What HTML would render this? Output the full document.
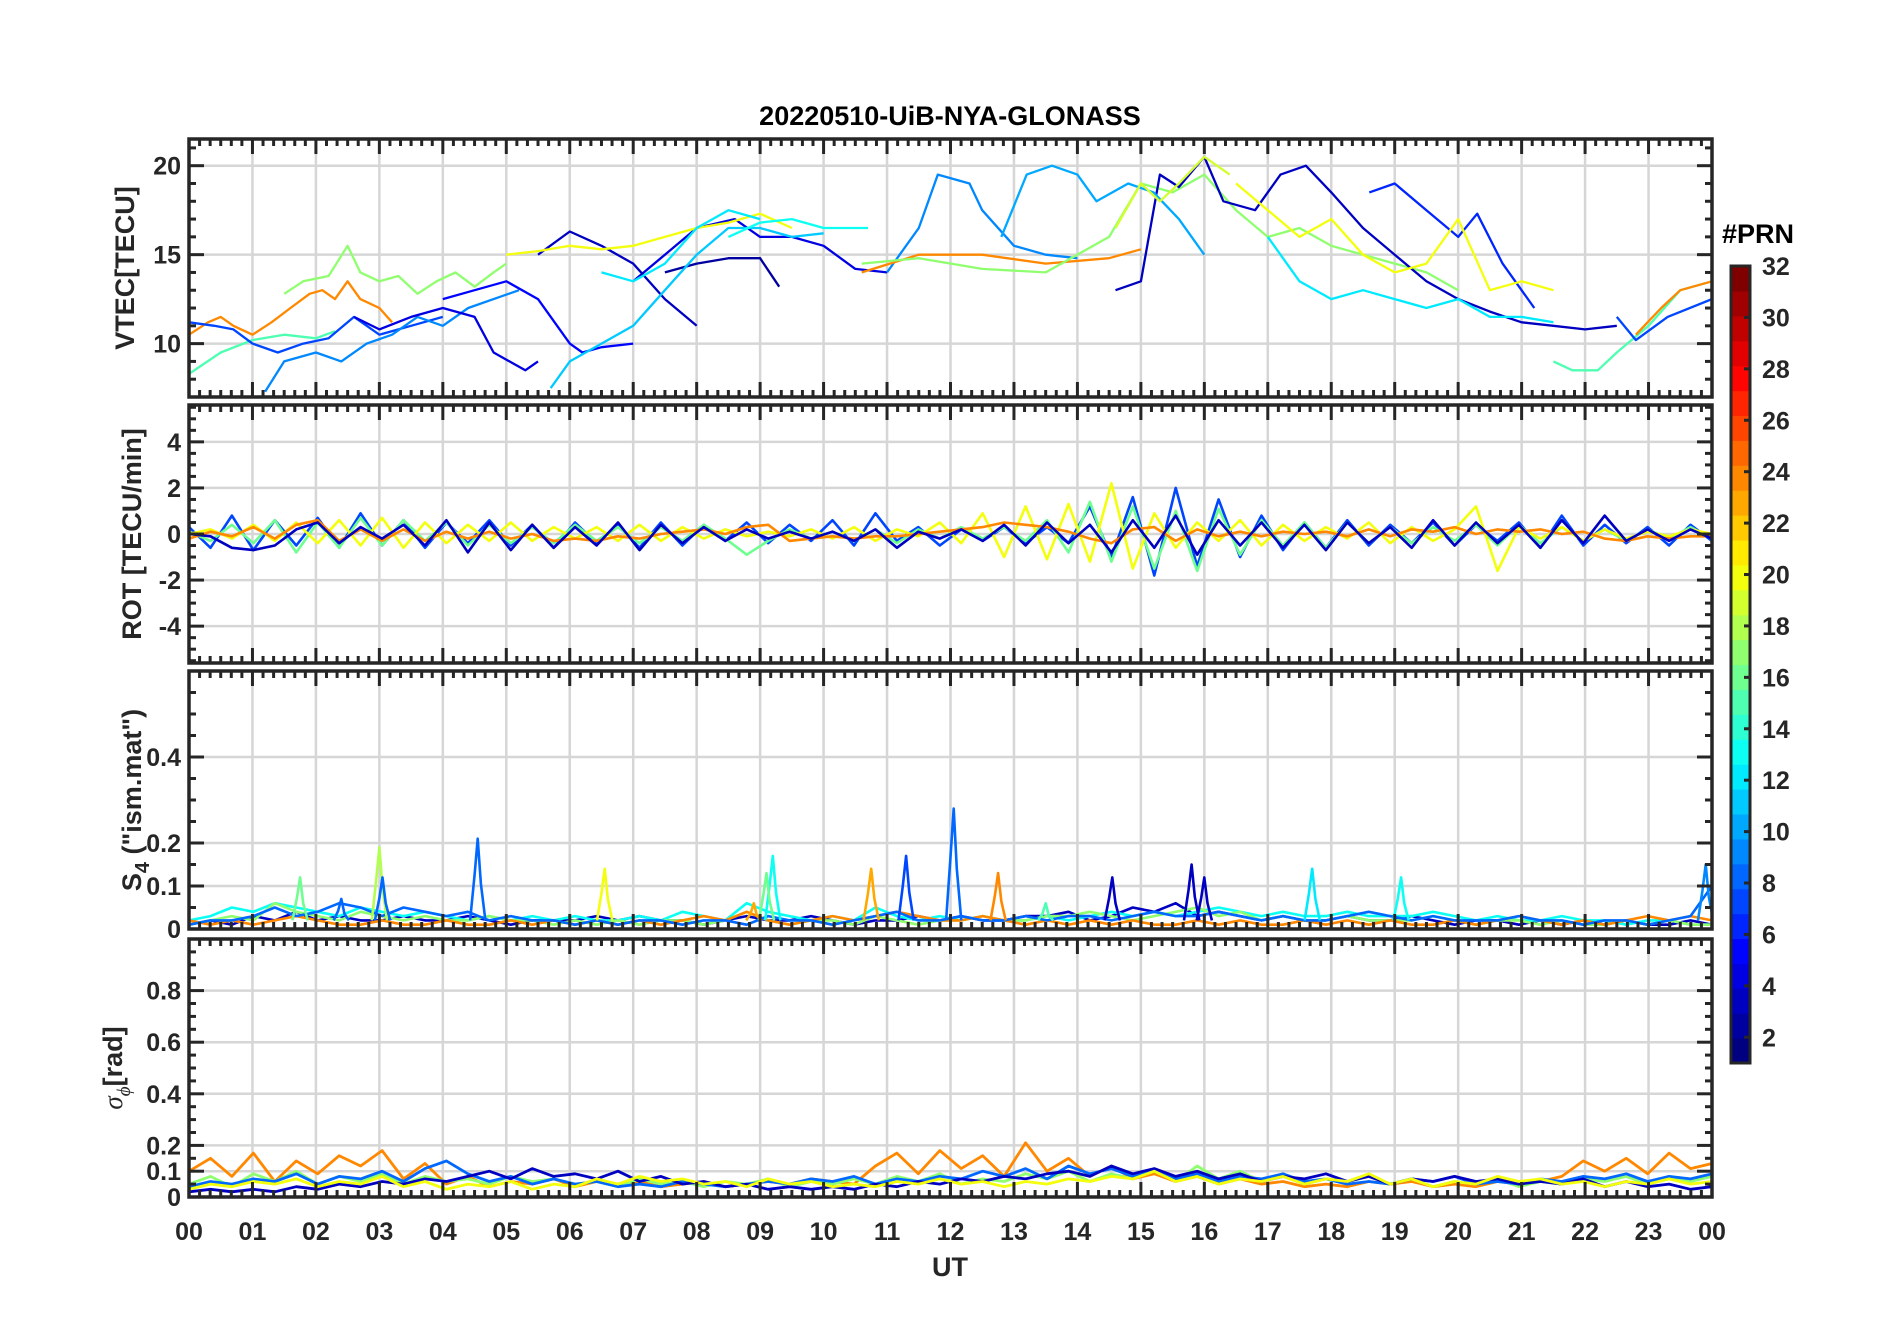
<!DOCTYPE html>
<html><head><meta charset="utf-8">
<style>
html,body{margin:0;padding:0;background:#fff;}
svg{display:block;font-family:"Liberation Sans",Arial,sans-serif;}
</style></head>
<body>
<svg id="chart" width="1902" height="1330" viewBox="0 0 1902 1330" xmlns="http://www.w3.org/2000/svg">
<text x="950" y="125" text-anchor="middle" font-size="27" font-weight="bold" fill="#000">20220510-UiB-NYA-GLONASS</text>
<text x="950" y="1276" text-anchor="middle" font-size="27" font-weight="bold" fill="#262626">UT</text>
<text transform="translate(134,268) rotate(-90)" text-anchor="middle" font-size="27" font-weight="bold" fill="#262626">VTEC[TECU]</text>
<text transform="translate(141,534) rotate(-90)" text-anchor="middle" font-size="27" font-weight="bold" fill="#262626">ROT [TECU/min]</text>
<text transform="translate(141,800) rotate(-90)" text-anchor="middle" font-size="27" font-weight="bold" fill="#262626">S<tspan font-size="20" dy="8">4</tspan><tspan dy="-8"> ("ism.mat")</tspan></text>
<text transform="translate(122,1068) rotate(-90)" text-anchor="middle" font-size="27" font-weight="bold" fill="#262626"><tspan font-style="italic" font-weight="normal" font-family="Liberation Serif, serif">σ</tspan><tspan font-size="19" dy="8" font-style="italic" font-weight="normal" font-family="Liberation Serif, serif">ϕ</tspan><tspan dy="-8">[rad]</tspan></text>
<text x="1722" y="243" font-size="27" font-weight="bold" fill="#000">#PRN</text>
<g id="layer"></g>
</svg>
<script>
// ===== DATA =====
const hourLabels = ["00","01","02","03","04","05","06","07","08","09","10","11","12","13","14","15","16","17","18","19","20","21","22","23","00"];
const vtecTicks = [10,15,20];
const rotTicks = [-4,-2,0,2,4];
const s4Ticks = [0,0.1,0.2,0.4];
const sigTicks = [0,0.1,0.2,0.4,0.6,0.8];
const cbTicks = [2,4,6,8,10,12,14,16,18,20,22,24,26,28,30,32];

// VTEC series: PRN, times (h), values (TECU)
const vtecPrn = [24,17,15,7,9,4,4,5,3,2,20,11,13,12,9,24,17,3,6,20,12,15,24,7,10,19];
const vtecT = [
 [0,0.3,0.5,0.7,1.0,1.3,1.6,1.9,2.1,2.3,2.5,2.7,3.0,3.2],
 [1.5,1.8,2.2,2.5,2.7,3.0,3.3,3.6,3.9,4.2,4.5,4.8,5.0],
 [0,0.5,1.0,1.5,2.0,2.3],
 [0,0.4,0.7,1.0,1.4,1.8,2.2,2.6,3.0,3.5,4.0],
 [1.2,1.5,2.0,2.4,2.8,3.2,3.6,4.0,4.4,4.8,5.2],
 [2.6,3.0,3.5,4.0,4.5,4.8,5.3,5.5],
 [7.0,7.5,8.0,8.6,9.0,9.5,10.0,10.5,11.0],
 [4.0,4.5,5.0,5.5,6.0,6.2,6.5,7.0],
 [5.5,6.0,6.5,7.0,7.5,8.0],
 [7.5,8.0,8.5,9.0,9.3],
 [5.0,5.5,6.0,6.5,7.0,7.5,8.0,8.5,9.0,9.5],
 [5.7,6.0,6.5,7.0,7.5,8.0,8.5,9.0,9.5,10.0],
 [8.5,9.0,9.5,10.0,10.7],
 [6.5,7.0,7.5,8.0,8.5,9.0],
 [11.0,11.5,11.8,12.3,12.5,13.0,13.5,14.0],
 [10.6,11.5,12.5,13.5,14.5,15.0],
 [10.6,11.5,12.5,13.5,14.5,15.0,15.5,16.0,16.5,17.0,17.5,18.0,18.5,19.0,19.5,20.0],
 [14.6,15.0,15.3,15.6,16.0,16.3,16.8,17.2,17.6,18.0,18.5,19.0,19.5,20.0,20.5,21.0,21.5,22.0,22.5],
 [18.6,19.0,19.5,20.0,20.3,20.7,21.2],
 [16.5,17.0,17.5,18.0,18.5,19.0,19.5,20.0,20.5,21.0,21.5],
 [17.0,17.5,18.0,18.5,19.0,19.5,20.0,20.5,21.0,21.5],
 [21.5,21.8,22.2,22.5,23.0,23.5,24.0],
 [22.8,23.2,23.5,24.0],
 [22.5,22.8,23.3,24.0],
 [12.8,13.2,13.6,14.0,14.3,14.8,15.2,15.6,16.0],
 [14.6,15.0,15.3,15.6,16.0,16.4]
];
const vtecV = [
 [10.5,11.2,11.5,11.0,10.5,11.2,12.0,12.8,13.0,12.5,13.5,12.5,12.0,11.2],
 [12.8,13.5,13.8,15.5,14.0,13.5,13.8,12.8,13.5,14.0,13.2,14.0,14.5],
 [8.3,9.5,10.2,10.5,10.3,10.7],
 [11.2,11.0,10.8,10.0,9.5,10.0,10.3,11.5,10.5,11.0,11.5],
 [7.3,9.0,9.5,9.0,10.0,10.5,11.5,11.0,12.0,12.5,13.0],
 [11.5,10.8,11.5,12.0,11.5,9.5,8.5,9.0],
 [13.5,15.0,16.5,17.0,16.0,16.0,15.5,14.2,14.0],
 [12.5,13.0,13.5,12.5,10.0,9.5,9.8,10.0],
 [15.0,16.3,15.5,14.5,12.5,11.0],
 [14.0,14.5,14.8,14.8,13.2],
 [15.0,15.2,15.5,15.3,15.5,16.0,16.5,16.8,17.3,16.5],
 [7.5,9.0,10.0,11.0,13.0,15.0,16.5,16.5,16.0,16.2],
 [16.0,16.8,17.0,16.5,16.5],
 [14.0,13.5,14.5,16.5,17.5,17.0],
 [14.0,16.5,19.5,19.0,17.5,15.5,15.0,14.8],
 [14.0,15.0,15.0,14.5,14.8,15.3],
 [14.5,14.8,14.2,14.0,16.0,19.0,18.5,19.5,17.5,16.0,16.5,15.5,15.0,14.5,14.0,13.0],
 [13.0,13.5,19.5,18.8,20.5,18.0,17.5,19.5,20.0,18.5,16.5,15.0,13.5,12.5,11.8,11.2,11.0,10.8,11.0],
 [18.5,19.0,17.5,16.0,17.3,14.5,12.0],
 [19.0,17.5,16.0,17.0,15.0,14.0,14.5,17.0,13.0,13.5,13.0],
 [16.0,13.5,12.5,13.0,12.5,12.0,12.5,11.5,11.5,11.2],
 [9.0,8.5,8.5,9.5,11.0,13.0,13.5],
 [10.5,12.0,13.0,13.5],
 [11.5,10.2,11.5,12.5],
 [16.0,19.5,20.0,19.5,18.0,19.0,18.5,17.0,15.0],
 [16.5,19.0,18.0,19.0,20.5,19.5]
];

// ROT series (equally spaced over 24h)
const rotPrn = [7,16,20,24,3];
const rotV = [
 [0.3,-0.6,0.8,-0.7,0.6,-0.5,0.7,-0.6,0.9,-0.5,0.6,-0.6,0.5,-0.4,0.6,-0.5,0.4,-0.6,0.5,-0.4,0.4,-0.6,0.5,-0.5,0.4,-0.3,0.5,-0.4,0.4,-0.3,0.6,-0.5,0.9,-0.3,0.3,-0.5,0.2,-0.3,0.3,-0.4,0.3,-0.4,1.2,-1.0,1.6,-1.8,2.0,-1.4,1.5,-1.0,0.8,-0.7,0.5,-0.6,0.6,-0.5,0.4,-0.4,0.5,-0.5,0.4,-0.3,0.5,-0.6,0.8,-0.5,0.4,-0.4,0.3,-0.5,0.4,-0.3],
 [0.1,-0.3,0.4,-0.4,0.6,-0.8,0.5,-0.6,0.7,-0.5,0.6,-0.3,0.5,-0.5,0.4,-0.4,0.3,-0.4,0.4,-0.3,0.3,-0.4,0.3,-0.3,0.4,-0.2,-0.9,-0.3,0.2,-0.2,0.1,-0.3,0.2,-0.4,0.2,-0.2,0.3,-0.2,0.3,-0.3,0.6,-0.8,1.4,-1.2,1.2,-1.5,1.0,-1.6,1.1,-0.9,0.6,-0.5,0.5,-0.6,0.5,-0.4,0.3,-0.4,0.3,-0.3,0.4,-0.5,0.4,-0.4,0.3,-0.3,0.2,-0.3,0.2,-0.2,0.3,-0.2],
 [0.0,0.2,-0.2,0.4,-0.3,0.5,-0.4,0.6,-0.5,0.7,-0.6,0.5,-0.4,0.4,-0.3,0.5,-0.3,0.3,-0.2,0.3,-0.3,0.4,-0.3,0.3,-0.2,0.2,-0.1,0.1,-0.1,0.2,-0.2,0.3,-0.3,0.2,-0.1,0.5,-0.4,0.9,-1.0,1.2,-1.1,1.3,-1.2,2.2,-1.5,0.9,-0.6,0.5,-0.3,0.6,-0.5,0.4,-0.3,0.3,-0.2,0.5,-0.4,0.3,-0.3,0.2,1.2,-1.6,0.3,-0.2,0.3,-0.3,0.2,-0.2,0.1,-0.1,0.2,0.0],
 [-0.2,0.1,-0.1,0.3,-0.2,0.4,0.6,-0.3,0.2,-0.3,0.2,-0.3,0.1,-0.2,0.1,-0.2,0.0,-0.3,-0.2,-0.3,-0.1,-0.2,0.0,0.1,0.2,0.0,0.3,0.4,-0.3,-0.2,-0.1,-0.2,-0.1,-0.1,0.0,0.1,0.2,0.3,0.5,0.4,0.3,0.1,-0.2,-0.4,0.2,0.3,-0.3,0.2,-0.1,0.1,-0.1,0.1,0.0,0.1,-0.1,0.2,-0.1,0.2,0.1,0.3,0.0,0.2,0.1,0.2,0.0,0.1,-0.2,-0.3,-0.1,-0.2,-0.1,-0.1],
 [0.0,-0.1,-0.6,-0.7,-0.5,0.2,0.5,-0.4,0.3,-0.2,0.4,-0.5,0.6,-0.8,0.5,-0.7,0.4,-0.6,0.3,-0.5,0.5,-0.7,0.4,-0.4,0.3,-0.3,0.2,-0.2,0.1,-0.2,0.1,-0.3,0.2,-0.6,0.1,-0.2,0.2,-0.3,0.4,-0.5,0.5,-0.4,0.4,-0.8,0.6,-0.6,0.8,-0.9,0.6,-0.5,0.5,-0.6,0.4,-0.7,0.5,-0.4,0.3,-0.6,0.6,-0.5,0.5,-0.4,0.4,-0.6,0.6,-0.4,0.8,-0.3,0.2,-0.3,0.2,-0.2]
];

// S4 base series (equally spaced) and spike events
const s4Prn = [3,13,17,24,8];
const s4V = [
 [0.01,0.02,0.01,0.03,0.02,0.04,0.02,0.03,0.02,0.02,0.03,0.02,0.02,0.03,0.02,0.01,0.02,0.02,0.02,0.03,0.02,0.03,0.02,0.02,0.01,0.02,0.03,0.02,0.02,0.03,0.02,0.01,0.02,0.02,0.03,0.02,0.03,0.02,0.02,0.03,0.03,0.04,0.02,0.03,0.05,0.04,0.06,0.03,0.04,0.03,0.02,0.03,0.02,0.02,0.03,0.02,0.02,0.03,0.02,0.01,0.02,0.02,0.01,0.02,0.01,0.02,0.01,0.02,0.01,0.01,0.02,0.01],
 [0.02,0.03,0.05,0.04,0.06,0.05,0.04,0.03,0.05,0.04,0.03,0.04,0.03,0.02,0.03,0.02,0.03,0.02,0.03,0.02,0.02,0.03,0.02,0.04,0.03,0.02,0.06,0.04,0.03,0.02,0.03,0.02,0.05,0.03,0.02,0.03,0.02,0.03,0.02,0.02,0.03,0.02,0.03,0.04,0.03,0.04,0.03,0.04,0.05,0.04,0.03,0.04,0.03,0.03,0.04,0.03,0.03,0.03,0.04,0.03,0.02,0.03,0.02,0.02,0.03,0.02,0.02,0.01,0.02,0.02,0.01,0.01],
 [0.01,0.02,0.03,0.02,0.06,0.04,0.03,0.02,0.04,0.03,0.02,0.03,0.02,0.02,0.03,0.02,0.02,0.01,0.02,0.01,0.02,0.01,0.02,0.02,0.01,0.02,0.04,0.02,0.01,0.02,0.02,0.01,0.03,0.02,0.01,0.02,0.02,0.03,0.02,0.02,0.03,0.03,0.04,0.03,0.02,0.03,0.04,0.05,0.03,0.04,0.02,0.03,0.02,0.02,0.03,0.02,0.02,0.02,0.03,0.02,0.01,0.02,0.02,0.01,0.02,0.01,0.01,0.02,0.01,0.02,0.01,0.01],
 [0.02,0.01,0.02,0.01,0.02,0.03,0.02,0.01,0.01,0.02,0.01,0.01,0.02,0.01,0.01,0.02,0.01,0.02,0.01,0.02,0.01,0.02,0.01,0.02,0.03,0.02,0.04,0.02,0.01,0.02,0.03,0.02,0.03,0.04,0.03,0.02,0.02,0.03,0.02,0.01,0.02,0.01,0.02,0.01,0.02,0.01,0.01,0.02,0.01,0.02,0.01,0.01,0.02,0.01,0.02,0.01,0.02,0.01,0.01,0.02,0.01,0.02,0.03,0.02,0.01,0.02,0.01,0.02,0.03,0.02,0.03,0.02],
 [0.01,0.02,0.02,0.03,0.05,0.03,0.04,0.06,0.05,0.03,0.05,0.04,0.03,0.04,0.02,0.03,0.02,0.02,0.01,0.02,0.01,0.02,0.02,0.01,0.02,0.02,0.01,0.03,0.02,0.02,0.01,0.02,0.03,0.04,0.02,0.02,0.03,0.02,0.02,0.03,0.02,0.03,0.03,0.02,0.03,0.04,0.03,0.03,0.04,0.03,0.02,0.03,0.02,0.02,0.03,0.04,0.03,0.02,0.03,0.02,0.02,0.02,0.03,0.02,0.02,0.01,0.02,0.02,0.01,0.02,0.03,0.1]
];
const spikeT = [1.75,3.0,3.05,4.55,6.55,9.2,9.1,10.75,11.3,12.05,12.75,14.55,15.8,16.0,17.7,19.1,23.9,2.4,8.9,13.5];
const spikeV = [0.12,0.19,0.12,0.21,0.14,0.17,0.13,0.14,0.17,0.28,0.13,0.12,0.15,0.12,0.14,0.12,0.15,0.07,0.06,0.06];
const spikePrn = [16,18,8,8,20,13,16,23,7,8,24,3,3,3,12,13,9,8,23,15];

// Sigma-phi series (equally spaced)
const sigPrn = [24,17,8,3,20];
const sigV = [
 [0.10,0.15,0.08,0.17,0.06,0.14,0.09,0.16,0.12,0.18,0.07,0.13,0.05,0.08,0.04,0.06,0.05,0.07,0.04,0.06,0.05,0.06,0.04,0.05,0.06,0.04,0.05,0.06,0.05,0.07,0.06,0.05,0.12,0.17,0.09,0.18,0.11,0.16,0.08,0.21,0.10,0.15,0.08,0.12,0.07,0.09,0.06,0.08,0.05,0.07,0.05,0.06,0.04,0.05,0.04,0.06,0.05,0.06,0.04,0.05,0.04,0.06,0.05,0.06,0.08,0.14,0.10,0.15,0.09,0.17,0.11,0.13],
 [0.05,0.08,0.04,0.09,0.06,0.10,0.05,0.08,0.06,0.09,0.05,0.08,0.06,0.07,0.05,0.08,0.06,0.07,0.05,0.06,0.04,0.07,0.05,0.06,0.04,0.06,0.05,0.07,0.04,0.06,0.05,0.07,0.05,0.08,0.06,0.09,0.05,0.07,0.06,0.09,0.07,0.10,0.06,0.09,0.07,0.11,0.06,0.12,0.07,0.10,0.06,0.08,0.05,0.07,0.06,0.08,0.05,0.07,0.04,0.06,0.05,0.07,0.04,0.06,0.05,0.07,0.06,0.08,0.05,0.07,0.06,0.08],
 [0.04,0.06,0.05,0.07,0.06,0.09,0.05,0.08,0.07,0.10,0.06,0.11,0.14,0.09,0.06,0.08,0.05,0.07,0.05,0.06,0.04,0.05,0.04,0.06,0.05,0.04,0.05,0.06,0.05,0.07,0.06,0.08,0.05,0.07,0.06,0.08,0.07,0.10,0.08,0.11,0.07,0.12,0.09,0.11,0.08,0.10,0.07,0.09,0.06,0.08,0.07,0.09,0.06,0.07,0.05,0.06,0.05,0.07,0.06,0.08,0.05,0.06,0.05,0.07,0.06,0.08,0.07,0.09,0.06,0.08,0.07,0.09],
 [0.02,0.03,0.02,0.03,0.02,0.04,0.03,0.05,0.04,0.06,0.05,0.07,0.06,0.08,0.10,0.07,0.11,0.08,0.09,0.07,0.10,0.06,0.08,0.05,0.06,0.04,0.05,0.03,0.04,0.03,0.04,0.03,0.05,0.04,0.06,0.05,0.07,0.06,0.08,0.07,0.09,0.10,0.08,0.12,0.09,0.11,0.08,0.10,0.07,0.09,0.06,0.08,0.07,0.09,0.06,0.08,0.05,0.07,0.06,0.08,0.06,0.07,0.05,0.06,0.05,0.07,0.04,0.06,0.04,0.05,0.03,0.04],
 [0.03,0.05,0.04,0.06,0.05,0.07,0.04,0.06,0.05,0.08,0.04,0.06,0.03,0.05,0.04,0.06,0.03,0.05,0.04,0.07,0.05,0.08,0.06,0.07,0.05,0.06,0.04,0.07,0.05,0.06,0.04,0.05,0.04,0.06,0.05,0.07,0.05,0.06,0.04,0.06,0.05,0.07,0.06,0.08,0.07,0.10,0.06,0.08,0.05,0.07,0.06,0.08,0.05,0.07,0.06,0.09,0.05,0.07,0.04,0.06,0.05,0.08,0.06,0.07,0.05,0.06,0.04,0.06,0.05,0.07,0.05,0.06]
];

// ===== LAYOUT =====
const NS = "http://www.w3.org/2000/svg";
const L = 189, R = 1712, PH = 258;
const panels = [
  {top:139, min:7, max:21.5, ticks:vtecTicks, minor:1, name:"vtec", sw:2.3},
  {top:405, min:-5.6, max:5.6, ticks:rotTicks, minor:0.5, name:"rot", sw:2.6},
  {top:671, min:0, max:0.6, ticks:s4Ticks, minor:0.05, name:"s4", sw:2.6},
  {top:939, min:0, max:1, ticks:sigTicks, minor:0.05, name:"sigma-phi", sw:2.8}
];
const layer = document.getElementById("layer");
function el(tag, attrs, parent){ const e=document.createElementNS(NS,tag); for(const k in attrs) e.setAttribute(k,attrs[k]); (parent||layer).appendChild(e); return e; }
function xs(h){ return L + (R-L)*h/24; }
function ys(p,v){ return p.top + PH*(p.max - v)/(p.max - p.min); }
function jet(prn){ const t=(prn-1)/31; const c=x=>Math.round(255*Math.max(0,Math.min(1,x)));
  return `rgb(${c(1.5-Math.abs(4*t-3))},${c(1.5-Math.abs(4*t-2))},${c(1.5-Math.abs(4*t-1))})`; }
function fmt(v){ return (Math.round(v*10)/10).toString(); }

panels.forEach((p,pi)=>{
  const g = el("g",{});
  
  
  const bottom = p.top+PH;
  for(let h=1;h<24;h++){
    const ln=el("line",{x1:xs(h),x2:xs(h),y1:p.top,y2:bottom,stroke:"#d6d6d6","stroke-width":2.5},g);
    
    
  }
  p.ticks.forEach(v=>{
    const ln=el("line",{x1:L,x2:R,y1:ys(p,v),y2:ys(p,v),stroke:"#d6d6d6","stroke-width":2.5},g);
    
    
  });
  const cp = el("clipPath",{id:"clip"+pi},g);
  el("rect",{x:L,y:p.top,width:R-L,height:PH},cp);
  const dg = el("g",{"clip-path":`url(#clip${pi})`},g);
  
  
  p.dg = dg; p.g = g;
});

function poly(p, pts, color, name){
  const e = el("polyline",{points:pts.map(q=>q[0].toFixed(1)+","+q[1].toFixed(1)).join(" "),fill:"none",stroke:color,"stroke-width":p.sw,"stroke-linejoin":"round"},p.dg);
  
  
}
vtecT.forEach((ts,i)=>{
  poly(panels[0], ts.map((t,j)=>[xs(t), ys(panels[0], vtecV[i][j])]), jet(vtecPrn[i]), 'vtec-line-prn'+vtecPrn[i]);
});
rotV.forEach((vs,i)=>{
  poly(panels[1], vs.map((v,j)=>[xs(24*j/(vs.length-1)), ys(panels[1], v)]), jet(rotPrn[i]), 'rot-line-prn'+rotPrn[i]);
});
s4V.forEach((vs,i)=>{
  poly(panels[2], vs.map((v,j)=>[xs(24*j/(vs.length-1)), ys(panels[2], v)]), jet(s4Prn[i]), 's4-line-prn'+s4Prn[i]);
});
spikeT.forEach((t,i)=>{
  const p=panels[2];
  poly(p, [[xs(t-0.12),ys(p,0.02)],[xs(t-0.05),ys(p,spikeV[i]*0.6)],[xs(t),ys(p,spikeV[i])],[xs(t+0.05),ys(p,spikeV[i]*0.5)],[xs(t+0.12),ys(p,0.02)]], jet(spikePrn[i]), 's4-spike-prn'+spikePrn[i]);
});
sigV.forEach((vs,i)=>{
  poly(panels[3], vs.map((v,j)=>[xs(24*j/(vs.length-1)), ys(panels[3], v)]), jet(sigPrn[i]), 'sigma-line-prn'+sigPrn[i]);
});

panels.forEach((p,pi)=>{
  const g=p.g, bottom=p.top+PH, ax="#262626";
  for(let m=0;m<=144;m++){
    const x=xs(m/6), major=(m%6===0), len=major?15:7;
    el("line",{x1:x,x2:x,y1:p.top,y2:p.top+len,stroke:ax,"stroke-width":3},g);
    el("line",{x1:x,x2:x,y1:bottom,y2:bottom-len,stroke:ax,"stroke-width":3},g);
  }
  const start=Math.ceil(p.min/p.minor-1e-9);
  for(let k=start;k*p.minor<=p.max+1e-9;k++){
    const v=k*p.minor, y=ys(p,v);
    const major=p.ticks.some(t=>Math.abs(t-v)<1e-6), len=major?15:7;
    el("line",{x1:L,x2:L+len,y1:y,y2:y,stroke:ax,"stroke-width":3},g);
    el("line",{x1:R,x2:R-len,y1:y,y2:y,stroke:ax,"stroke-width":3},g);
  }
  const box=el("rect",{x:L,y:p.top,width:R-L,height:PH,fill:"none",stroke:ax,"stroke-width":3.5},g);
  
  
  p.ticks.forEach(v=>{
    const t=el("text",{x:L-8,y:ys(p,v)+9,"text-anchor":"end","font-size":25,"font-weight":"bold",fill:ax},g);
    t.textContent=fmt(v);
    
    
  });
  if(pi===3){
    hourLabels.forEach((lab,h)=>{
      const t=el("text",{x:xs(h),y:1240,"text-anchor":"middle","font-size":25,"font-weight":"bold",fill:ax},g);
      t.textContent=lab;
      
      
    });
  }
});

const CB = {x:1731, w:19, top:266, bottom:1063, min:1, max:32};
const cbG = el("g",{});


const cy = v => CB.bottom - (CB.bottom-CB.top)*(v-CB.min)/(CB.max-CB.min);
for(let k=0;k<32;k++){
  const y0=CB.bottom-(CB.bottom-CB.top)*k/32, y1=CB.bottom-(CB.bottom-CB.top)*(k+1)/32;
  el("rect",{x:CB.x,y:y1,width:CB.w,height:y0-y1+0.6,fill:jet(1+k)},cbG);
}
el("rect",{x:CB.x,y:CB.top,width:CB.w,height:CB.bottom-CB.top,fill:"none",stroke:"#262626","stroke-width":3},cbG);
cbTicks.forEach(v=>{
  const y=cy(v);
  el("line",{x1:CB.x+CB.w,x2:CB.x+CB.w-6,y1:y,y2:y,stroke:"#262626","stroke-width":3},cbG);
  const t=el("text",{x:CB.x+CB.w+12,y:y+9,"font-size":25,"font-weight":"bold",fill:"#262626"},cbG);
  t.textContent=v;
  
  
});
</script>
</body></html>
